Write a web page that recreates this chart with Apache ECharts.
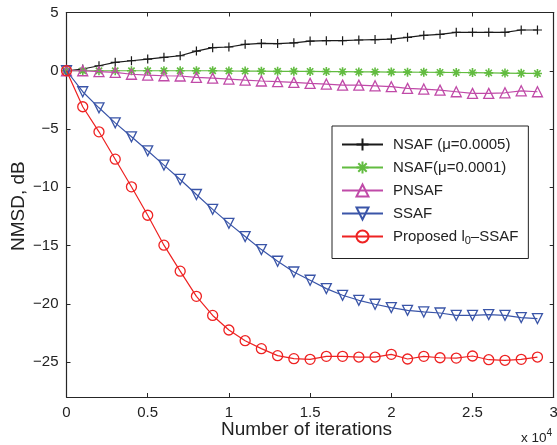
<!DOCTYPE html>
<html>
<head>
<meta charset="utf-8">
<script src="https://cdn.jsdelivr.net/npm/echarts@6/dist/echarts.min.js"></script>
<style>
html,body{margin:0;padding:0;background:#fff;}
#chart{width:557px;height:445px;}
</style>
</head>
<body>
<div id="chart"></div>
<script>
// iterations in units of 10^4
var iterations = [0,0.1,0.2,0.3,0.4,0.5,0.6,0.7,0.8,0.9,1.0,1.1,1.2,1.3,1.4,1.5,1.6,1.7,1.8,1.9,2.0,2.1,2.2,2.3,2.4,2.5,2.6,2.7,2.8,2.9];
var nsaf5 = [0,0.15,0.43,0.72,0.86,1.0,1.15,1.29,1.69,1.98,2.04,2.27,2.35,2.33,2.4,2.55,2.58,2.58,2.64,2.68,2.72,2.87,3.04,3.13,3.3,3.3,3.3,3.3,3.5,3.5];
var nsaf1 = [0,0,0,0,0,0,0,0,0,0,-0.02,-0.03,-0.04,-0.05,-0.05,-0.06,-0.07,-0.08,-0.1,-0.1,-0.11,-0.12,-0.13,-0.14,-0.15,-0.16,-0.18,-0.2,-0.22,-0.23];
var pnsaf = [0,0,-0.08,-0.14,-0.3,-0.37,-0.43,-0.45,-0.57,-0.63,-0.71,-0.8,-0.88,-0.94,-1.0,-1.08,-1.14,-1.23,-1.23,-1.29,-1.37,-1.51,-1.57,-1.66,-1.8,-1.94,-1.94,-1.89,-1.72,-1.8];
var ssaf = [0,-1.8,-3.18,-4.47,-5.67,-6.87,-8.1,-9.33,-10.62,-11.9,-13.1,-14.23,-15.35,-16.35,-17.27,-17.98,-18.7,-19.27,-19.7,-20.04,-20.33,-20.56,-20.7,-20.79,-20.99,-20.99,-20.93,-20.99,-21.19,-21.27];
var l0ssaf = [0,-3.09,-5.24,-7.59,-9.96,-12.4,-14.97,-17.2,-19.36,-21.0,-22.25,-23.17,-23.85,-24.45,-24.71,-24.77,-24.51,-24.51,-24.57,-24.57,-24.34,-24.74,-24.51,-24.63,-24.66,-24.48,-24.8,-24.85,-24.77,-24.57];
var yTicks = [-25,-20,-15,-10,-5,0,5];
var xTicks = [0,0.5,1,1.5,2,2.5,3];
var names = ['NSAF (\u03bc=0.0005)','NSAF(\u03bc=0.0001)','PNSAF','SSAF','Proposed l0\u2013SSAF'];

function pairs(ys){ return iterations.map(function(x,i){ return [x, ys[i]]; }); }
function fmt(v){ return String(v).replace('-', '\u2212'); }

var FONT = '"Liberation Sans", Arial, Helvetica, sans-serif';
var AX = '#262626';

function mkSeries(name, data, color, symbol, size, z, bw){
  return {
    type:'line', name:name, data:pairs(data), z:z,
    xAxisIndex:0, yAxisIndex:0,
    symbol:symbol, symbolSize:size, showSymbol:true,
    lineStyle:{color:color, width:1.2},
    itemStyle:{color:'none', borderColor:color, borderWidth:bw || 1.2},
    emphasis:{disabled:true}, animation:false
  };
}

var chart = echarts.init(document.getElementById('chart'), null, {renderer:'canvas'});
function axisLine(){ return {show:true, onZero:false, lineStyle:{color:AX, width:1.2}}; }
var tick = {inside:true, length:4, lineStyle:{color:AX}};
chart.setOption({
  animation:false,
  backgroundColor:'#fff',
  grid:{left:66.5, right:3.3, top:12.5, bottom:48, show:false, outerBoundsMode:'none', containLabel:false},
  xAxis:[
    {type:'value', min:0, max:3, interval:0.5, position:'bottom', axisLine:axisLine(), splitLine:{show:false},
      axisTick:tick,
      axisLabel:{color:'#222', fontFamily:FONT, fontSize:15, margin:8, formatter:function(v){return fmt(v);}}},
    {type:'value', min:0, max:3, interval:0.5, position:'top', axisLine:axisLine(), splitLine:{show:false},
      axisTick:tick, axisLabel:{show:false}}
  ],
  yAxis:[
    {type:'value', min:-28, max:5, position:'left', axisLine:axisLine(), splitLine:{show:false},
      axisTick:{inside:true, length:4, lineStyle:{color:AX}, customValues:yTicks},
      axisLabel:{color:'#222', fontFamily:FONT, fontSize:15, margin:8, customValues:yTicks, formatter:function(v){return fmt(v);}}},
    {type:'value', min:-28, max:5, position:'right', axisLine:axisLine(), splitLine:{show:false},
      axisTick:{inside:true, length:4, lineStyle:{color:AX}, customValues:yTicks},
      axisLabel:{show:false, customValues:yTicks}}
  ],
  legend:{
    orient:'vertical', left:332, top:126,
    backgroundColor:'#fff', borderColor:'#222', borderWidth:1, borderRadius:0,
    padding:[10,10,12,9],
    itemWidth:41, itemHeight:15, itemGap:6,
    data:names,
    textStyle:{color:'#222', fontFamily:FONT, fontSize:15, padding:[0,0,0,5],
      rich:{sub:{fontFamily:FONT, fontSize:11, color:'#222', padding:[9,0,0,0]}}},
    formatter:function(n){ return n === names[4] ? 'Proposed l{sub|0}\u2013SSAF' : n; },
    selectedMode:false
  },
  series:[
    mkSeries(names[0], nsaf5, '#1a1a1a', 'path://M5,0 L5,10 M0,5 L10,5', 9, 2, 1.2),
    mkSeries(names[1], nsaf1, '#62bc40', 'path://M5,0 L5,10 M0,5 L10,5 M1.5,1.5 L8.5,8.5 M8.5,1.5 L1.5,8.5', 9, 3, 1.6),
    mkSeries(names[2], pnsaf, '#c04aa8', 'path://M5,0 L10,9 L0,9 Z', 10, 4, 1.3),
    mkSeries(names[3], ssaf, '#3a55a8', 'path://M0,0 L10,0 L5,9 Z', 10, 5, 1.3),
    mkSeries(names[4], l0ssaf, '#ee2222', 'circle', 10, 6, 1.3)
  ],
  graphic:[
    {type:'text', x:221, y:420, style:{text:'Number of iterations', font:'19px '+FONT, fill:'#222'}},
    {type:'text', rotation:Math.PI/2, x:9, y:251, style:{text:'NMSD, dB', font:'19px '+FONT, fill:'#222'}},
    {type:'text', x:521, y:428, style:{text:'x 10{sup|4}', font:'13.5px '+FONT, fill:'#222',
      rich:{sup:{fontSize:10, fontFamily:FONT, fill:'#222', padding:[0,0,10,0]}}}}
  ]
});
</script>
</body>
</html>
